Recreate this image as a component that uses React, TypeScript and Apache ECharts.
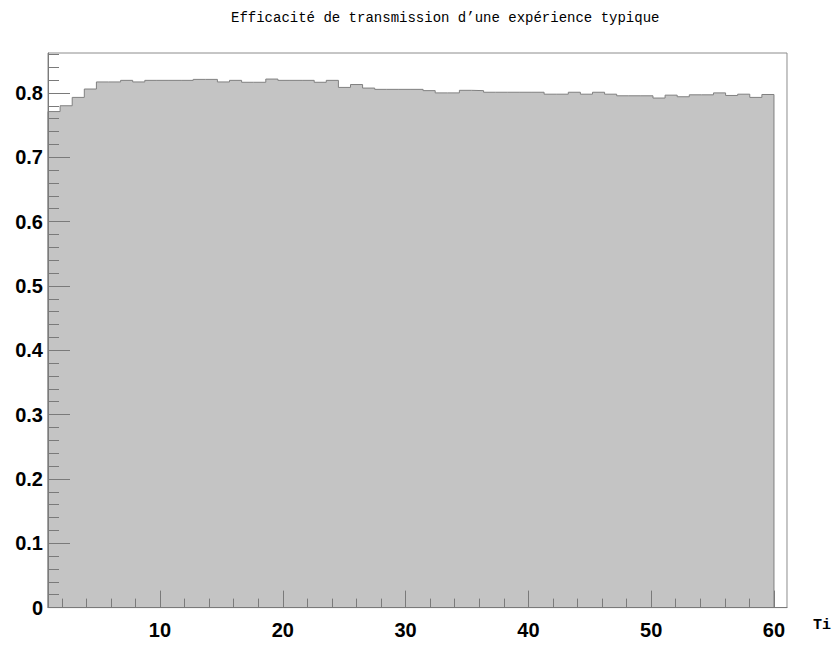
import React, { useEffect, useRef } from "react";
import * as echarts from "echarts";

const titleText = "Efficacité de transmission d’une expérience typique";
const xAxisName = "Ti";

// Histogram contents (60 bins)
const binValues: number[] = [
  0.771, 0.78, 0.793, 0.806, 0.817, 0.817, 0.8195, 0.817, 0.8195, 0.8195,
  0.8195, 0.8195, 0.821, 0.821, 0.817, 0.8195, 0.8165, 0.8165, 0.8215, 0.8195,
  0.8195, 0.8195, 0.8165, 0.8195, 0.8085, 0.813, 0.8075, 0.8055, 0.8055, 0.8055,
  0.8055, 0.8035, 0.8, 0.8, 0.804, 0.8035, 0.801, 0.801, 0.801, 0.801,
  0.801, 0.798, 0.798, 0.801, 0.798, 0.801, 0.798, 0.7955, 0.7955, 0.7955,
  0.792, 0.7965, 0.794, 0.797, 0.797, 0.8, 0.796, 0.798, 0.793, 0.7975,
];
const binStart = 0.88;
const binEnd = 60;

const xMin = 0.88;
const xMax = 61.06;
const yMin = 0;
const yMax = 0.862;

const xTickLabels = [10, 20, 30, 40, 50, 60];
const xMinorTicks = [2, 4, 6, 8, 12, 14, 16, 18, 22, 24, 26, 28, 32, 34, 36, 38, 42, 44, 46, 48, 52, 54, 56, 58];
const yTickLabels = [0, 0.1, 0.2, 0.3, 0.4, 0.5, 0.6, 0.7, 0.8];
const yMinorTicks = [
  0.02, 0.04, 0.06, 0.08, 0.12, 0.14, 0.16, 0.18, 0.22, 0.24, 0.26, 0.28,
  0.32, 0.34, 0.36, 0.38, 0.42, 0.44, 0.46, 0.48, 0.52, 0.54, 0.56, 0.58,
  0.62, 0.64, 0.66, 0.68, 0.72, 0.74, 0.76, 0.78, 0.82, 0.84, 0.86,
];

const axisColor = "#7a7a7a";
const labelStyle = {
  color: "#000",
  fontFamily: "Liberation Sans, Arial, sans-serif",
  fontWeight: "bold" as const,
  fontSize: 20,
};

export default function App() {
  const ref = useRef<HTMLDivElement>(null);

  useEffect(() => {
    if (!ref.current) return;
    const chart = echarts.init(ref.current, null, { renderer: "svg" });

    const w = (binEnd - binStart) / binValues.length;
    const pts: number[][] = [[binStart, 0]];
    binValues.forEach((v, i) => pts.push([binStart + i * w, v]));
    pts.push([binEnd, binValues[binValues.length - 1]]);
    pts.push([binEnd, 0]);

    chart.setOption({
      animation: false,
      backgroundColor: "#fff",
      title: {
        text: titleText,
        left: 226,
        top: 6,
        textStyle: {
          fontFamily: "Liberation Mono, DejaVu Sans Mono, monospace",
          fontWeight: "normal",
          fontSize: 14,
          color: "#000",
        },
      },
      grid: {
        left: 48,
        top: 53,
        right: 47,
        bottom: 38.4,
        show: true,
        borderColor: "#8c8c8c",
        borderWidth: 1,
        backgroundColor: "transparent",
      },
      xAxis: [
        {
          type: "value",
          min: xMin,
          max: xMax,
          position: "bottom",
          z: 10,
          name: xAxisName,
          nameLocation: "end",
          nameGap: 26,
          nameTextStyle: {
            fontFamily: "Liberation Mono, DejaVu Sans Mono, monospace",
            fontWeight: "bold",
            fontSize: 15,
            color: "#000",
            align: "left",
            verticalAlign: "top",
            padding: [10, 0, 0, 0],
          },
          axisLine: { show: true, lineStyle: { color: axisColor, width: 1 } },
          axisTick: {
            show: true,
            inside: true,
            length: 17,
            customValues: xTickLabels,
            lineStyle: { color: axisColor, width: 1 },
          },
          axisLabel: {
            ...labelStyle,
            margin: 12,
            customValues: xTickLabels,
            formatter: (v: number) => String(Math.round(v)),
          },
          splitLine: { show: false },
        },
        {
          type: "value",
          min: xMin,
          max: xMax,
          position: "bottom",
          z: 10,
          axisLine: { show: false },
          axisTick: {
            show: true,
            inside: true,
            length: 9,
            customValues: xMinorTicks,
            lineStyle: { color: axisColor, width: 1 },
          },
          axisLabel: { show: false },
          splitLine: { show: false },
        },
      ],
      yAxis: [
        {
          type: "value",
          min: yMin,
          max: yMax,
          position: "left",
          z: 10,
          axisLine: { show: true, lineStyle: { color: axisColor, width: 1 } },
          axisTick: {
            show: true,
            inside: true,
            length: 22,
            customValues: yTickLabels,
            lineStyle: { color: axisColor, width: 1 },
          },
          axisLabel: {
            ...labelStyle,
            margin: 5,
            customValues: yTickLabels,
            formatter: (v: number) => String(+v.toFixed(1)),
          },
          splitLine: { show: false },
        },
        {
          type: "value",
          min: yMin,
          max: yMax,
          position: "left",
          z: 10,
          axisLine: { show: false },
          axisTick: {
            show: true,
            inside: true,
            length: 11,
            customValues: yMinorTicks,
            lineStyle: { color: axisColor, width: 1 },
          },
          axisLabel: { show: false },
          splitLine: { show: false },
        },
      ],
      series: [
        {
          type: "line",
          xAxisIndex: 0,
          yAxisIndex: 0,
          step: "end",
          data: pts,
          symbol: "none",
          lineStyle: { color: "#808080", width: 1 },
          areaStyle: { color: "#c4c4c4", opacity: 1 },
          z: 2,
        },
      ],
    });

    return () => chart.dispose();
  }, []);

  return (
    <div
      ref={ref}
      style={{ position: "absolute", left: 0, top: 0, width: 834, height: 646 }}
    />
  );
}
